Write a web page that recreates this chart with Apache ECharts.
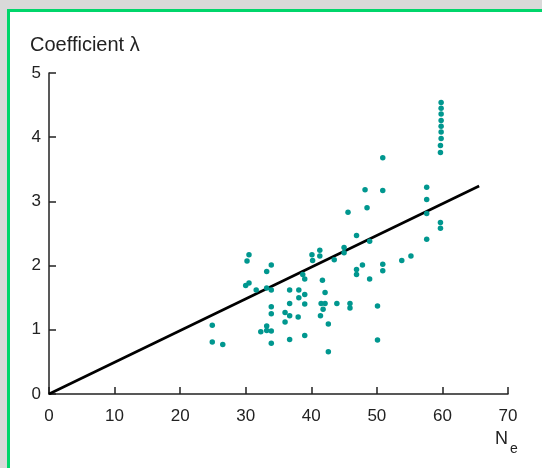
<!DOCTYPE html>
<html>
<head>
<meta charset="utf-8">
<script src="https://cdn.jsdelivr.net/npm/echarts@6/dist/echarts.min.js"></script>
<style>
  body { margin: 0; background: #d9d9d9; }
  #frame {
    position: absolute; left: 7px; top: 9px;
    width: 535px; height: 459px;
    border-left: 3px solid #00d66b; border-top: 3px solid #00d66b;
    background: #fff;
  }
  #main { width: 532px; height: 456px; }
</style>
</head>
<body>
<div id="frame"><div id="main"></div></div>
<script>
// N_e values of the measured points
var ne = [
  24.9, 24.9, 26.5, 30.2, 30.5, 30.0, 30.5, 31.6, 33.2, 33.9,
  33.2, 33.9, 33.9, 33.9, 32.3, 33.2, 33.2, 33.9, 33.9, 36.0,
  36.0, 36.7, 36.7, 36.7, 36.7, 38.1, 38.1, 39.0, 39.0, 38.0,
  39.0, 38.7, 39.0, 40.1, 40.2, 41.3, 41.3, 41.5, 42.1, 41.8,
  41.4, 41.7, 42.1, 42.6, 42.6, 43.5, 43.9, 45.0, 45.0, 45.6,
  45.9, 45.9, 46.9, 46.9, 46.9, 47.8, 48.2, 48.5, 48.9, 48.9,
  50.1, 50.1, 50.9, 50.9, 50.9, 50.9, 53.8, 55.2, 57.6, 57.6,
  57.6, 57.6, 59.7, 59.7, 59.8, 59.8, 59.8, 59.8, 59.8, 59.8,
  59.8, 59.7, 59.7
]
// coefficient lambda of the measured points
var lambda = [
  1.07, 0.81, 0.77, 2.07, 2.17, 1.69, 1.73, 1.62, 1.91, 2.01,
  1.65, 1.62, 1.36, 1.25, 0.97, 1.06, 0.99, 0.98, 0.79, 1.27,
  1.12, 1.62, 1.41, 1.22, 0.85, 1.62, 1.50, 1.55, 1.40, 1.20,
  0.91, 1.86, 1.79, 2.17, 2.08, 2.24, 2.15, 1.41, 1.41, 1.32,
  1.22, 1.77, 1.58, 1.09, 0.66, 2.09, 1.41, 2.28, 2.20, 2.83,
  1.41, 1.34, 2.47, 1.94, 1.86, 2.01, 3.18, 2.90, 2.38, 1.79,
  1.37, 0.84, 3.68, 3.17, 2.02, 1.92, 2.08, 2.15, 3.22, 3.03,
  2.81, 2.41, 2.67, 2.58, 4.54, 4.45, 4.36, 4.26, 4.17, 4.08,
  3.98, 3.87, 3.76
]
// fitted line ends
var fitX = [0, 65.6]
var fitY = [0, 3.24]

var points = ne.map(function (v, i) { return [v, lambda[i]] })
var fit = fitX.map(function (v, i) { return [v, fitY[i]] })

var axisColor = '#222'
var font = 'Liberation Sans, Arial, sans-serif'

var myChart = echarts.init(document.getElementById('main'))
myChart.setOption({
  animation: false,
  title: {
    text: 'Coefficient \u03bb',
    left: 20,
    top: 23,
    padding: 0,
    textStyle: { fontSize: 20, fontWeight: 'normal', color: axisColor, fontFamily: font }
  },
  grid: { left: 39, top: 61, width: 459, height: 321 },
  xAxis: {
    type: 'value',
    min: 0,
    max: 70,
    interval: 10,
    axisLine: { lineStyle: { color: axisColor, width: 1.5 } },
    axisTick: { inside: true, length: 7, lineStyle: { color: axisColor, width: 1.5 } },
    axisLabel: { margin: 14, fontSize: 17, color: axisColor, fontFamily: font },
    splitLine: { show: false }
  },
  yAxis: {
    type: 'value',
    min: 0,
    max: 5,
    interval: 1,
    axisLine: { show: true, lineStyle: { color: axisColor, width: 1.5 } },
    axisTick: { show: true, inside: true, length: 7, lineStyle: { color: axisColor, width: 1.5 } },
    axisLabel: { margin: 8, fontSize: 17, color: axisColor, fontFamily: font, padding: [0, 0, 6, 0] },
    splitLine: { show: false }
  },
  graphic: [
    { type: 'text', left: 485, top: 418, style: { text: 'N', fontSize: 18, fill: axisColor, fontFamily: font } },
    { type: 'text', left: 500, top: 430, style: { text: 'e', fontSize: 14, fill: axisColor, fontFamily: font } }
  ],
  series: [
    {
      type: 'line',
      data: fit,
      showSymbol: false,
      lineStyle: { color: '#000', width: 2.6 },
      z: 2
    },
    {
      type: 'scatter',
      data: points,
      symbolSize: 5.5,
      itemStyle: { color: '#00978f', opacity: 1 },
      z: 3
    }
  ]
})
</script>
</body>
</html>
